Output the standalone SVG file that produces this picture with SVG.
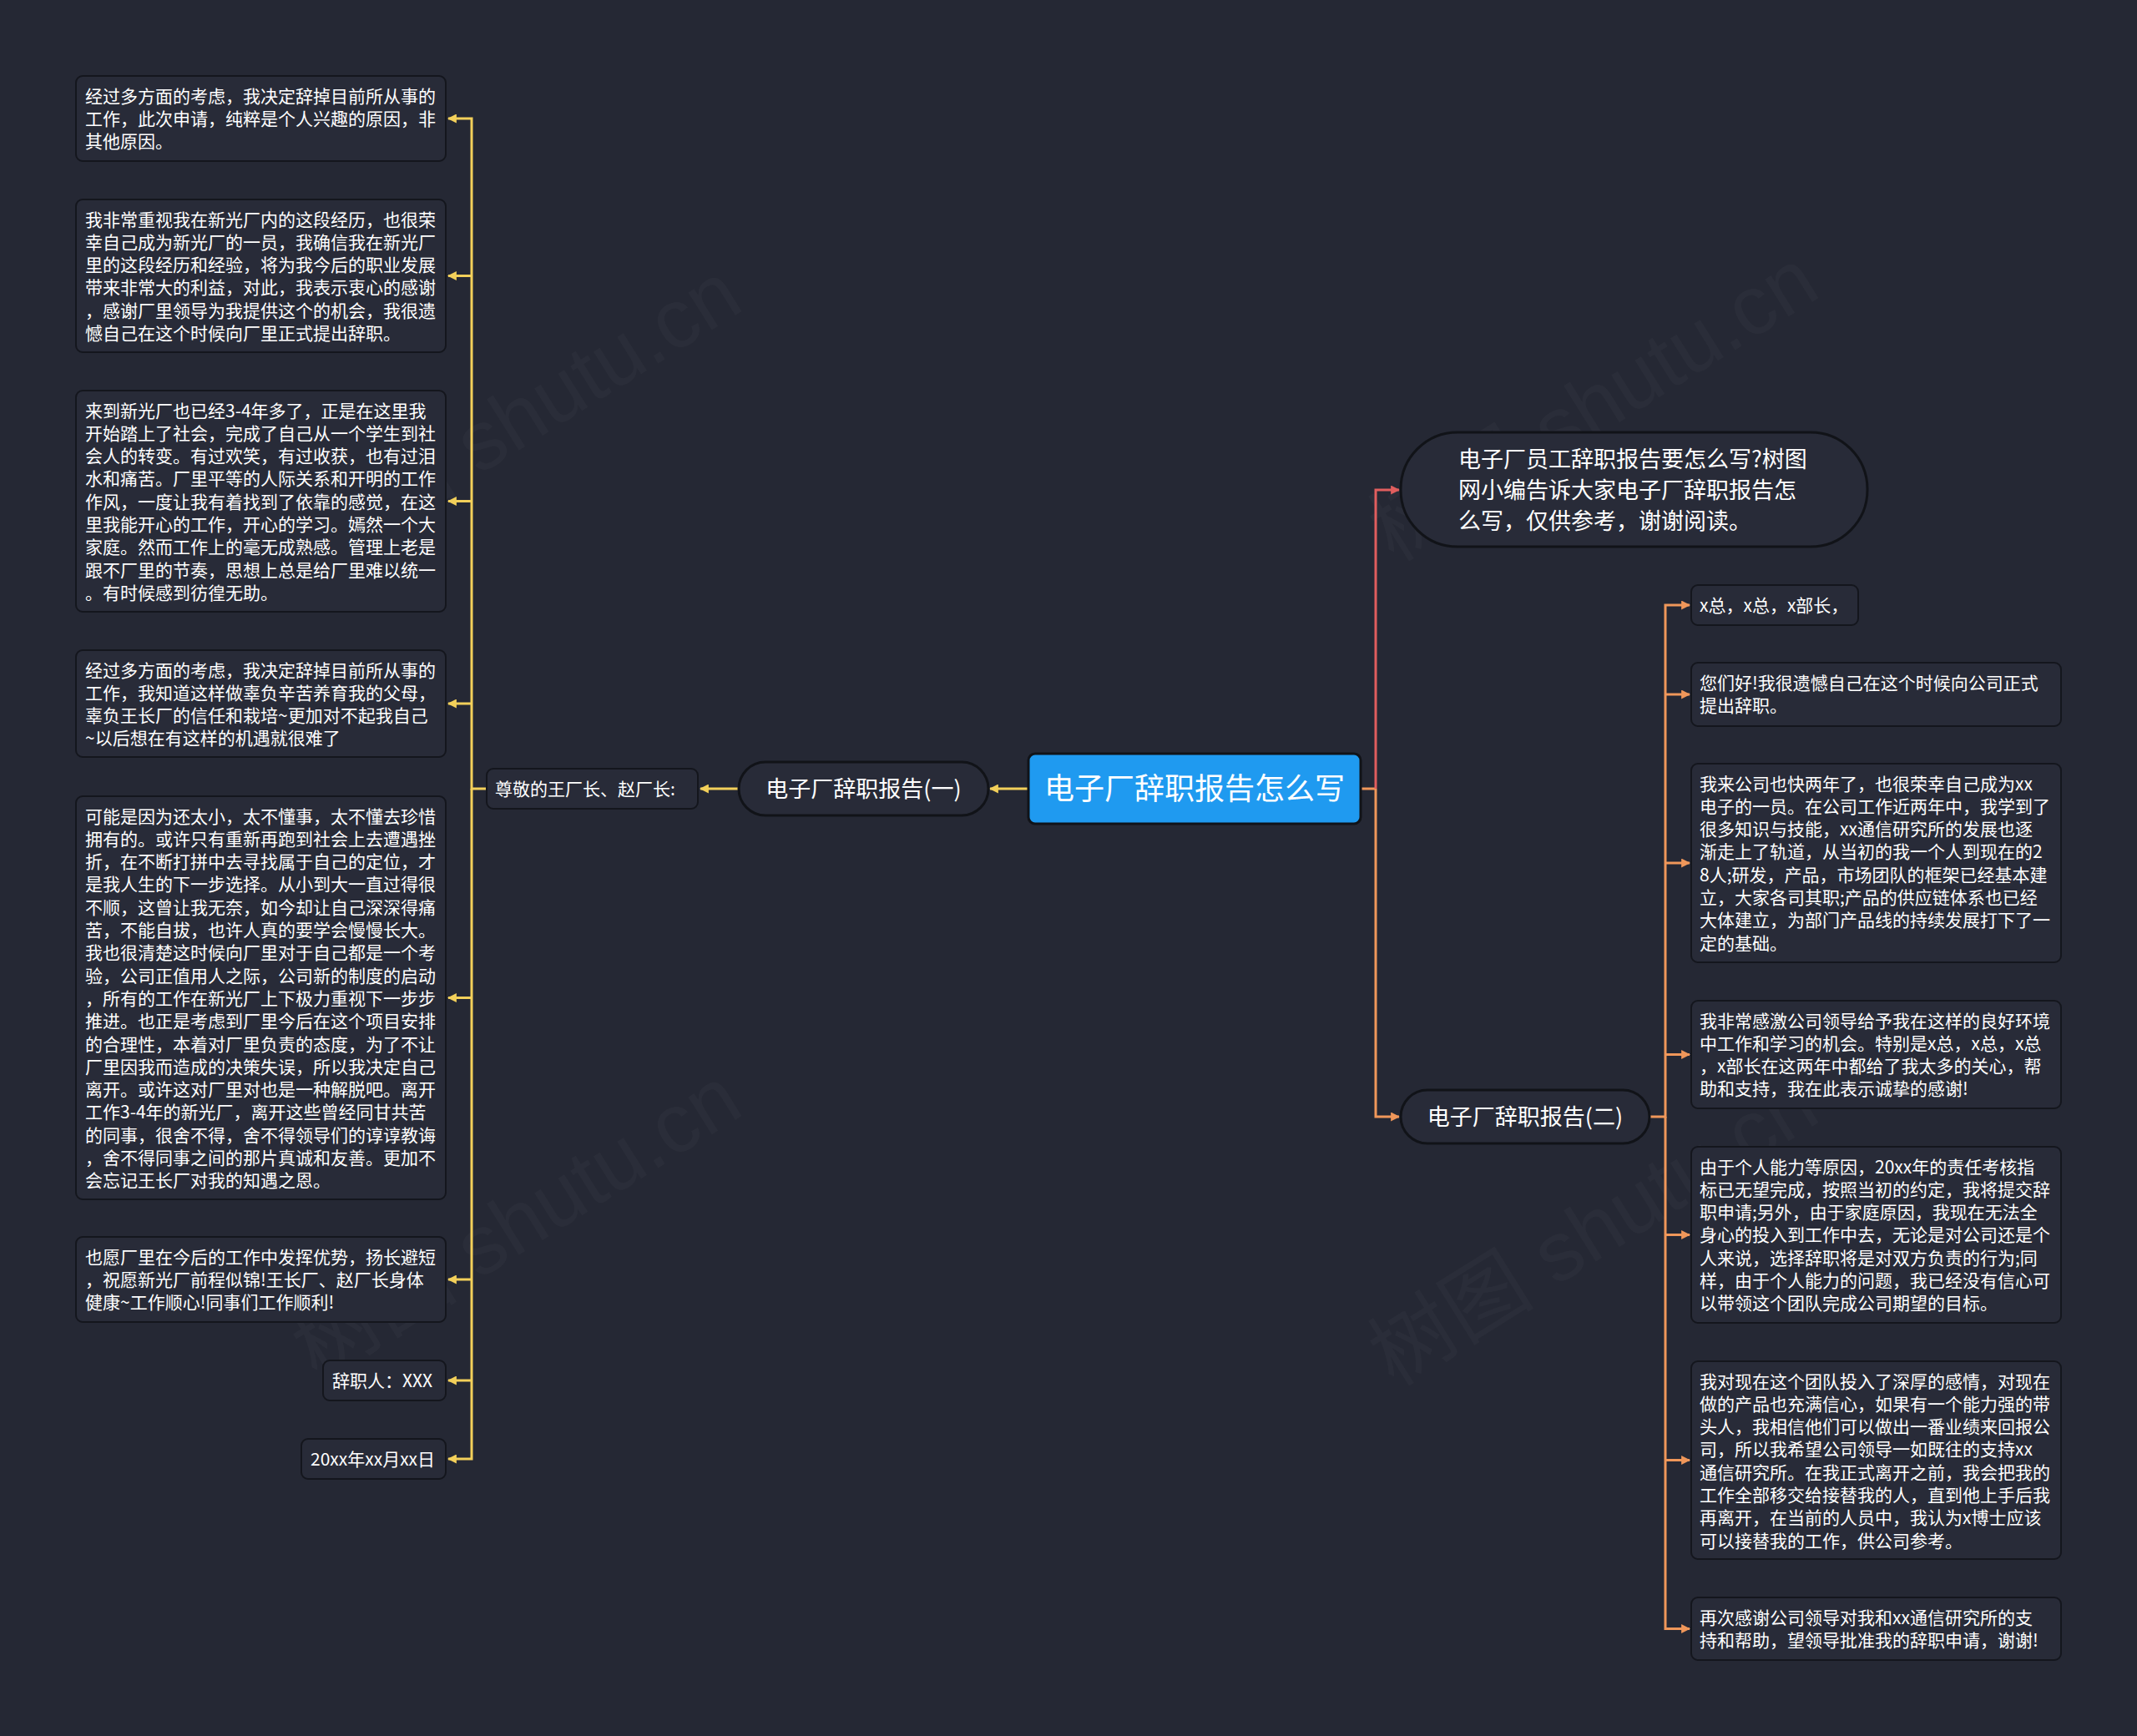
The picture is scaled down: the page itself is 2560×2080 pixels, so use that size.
<svg xmlns="http://www.w3.org/2000/svg" width="2560" height="2080" viewBox="0 0 2560 2080">
<defs>
<style>
.bg{fill:#252834}
.box{fill:#282b38;stroke:#14161d;stroke-width:2}
.pill{fill:#282b38;stroke:#111318;stroke-width:3}
.root{fill:#1f9af0;stroke:#111318;stroke-width:3}
.t{font-family:"Noto Sans CJK SC","Noto Sans",sans-serif;font-size:21px;fill:#ffffff}
.tm{font-family:"Noto Sans CJK SC","Noto Sans",sans-serif;font-size:27px;fill:#ffffff}
.tr{font-family:"Noto Sans CJK SC","Noto Sans",sans-serif;font-size:36px;fill:#ffffff}
.wm{font-family:"Liberation Sans","Noto Sans CJK SC",sans-serif;font-size:100px;fill:#ffffff;fill-opacity:0.028}
.cy{fill:none;stroke:#f3d05a;stroke-width:3}
.cr{fill:none;stroke:#e15e5e;stroke-width:3}
.co{fill:none;stroke:#f0975a;stroke-width:3}
</style>
<marker id="ay" viewBox="0 0 10 10" refX="9" refY="5" markerWidth="11" markerHeight="11" markerUnits="userSpaceOnUse" orient="auto"><path d="M0,0 L10,5 L0,10 z" fill="#f3d05a"/></marker>
<marker id="ar" viewBox="0 0 10 10" refX="9" refY="5" markerWidth="11" markerHeight="11" markerUnits="userSpaceOnUse" orient="auto"><path d="M0,0 L10,5 L0,10 z" fill="#e15e5e"/></marker>
<marker id="ao" viewBox="0 0 10 10" refX="9" refY="5" markerWidth="11" markerHeight="11" markerUnits="userSpaceOnUse" orient="auto"><path d="M0,0 L10,5 L0,10 z" fill="#f0975a"/></marker>
</defs>
<rect class="bg" x="0" y="0" width="2560" height="2080"/>
<g id="watermarks">
<text class="wm" transform="translate(637,530) rotate(-32)" text-anchor="middle">树图 shutu.cn</text>
<text class="wm" transform="translate(637,1494) rotate(-32)" text-anchor="middle">树图 shutu.cn</text>
<text class="wm" transform="translate(1927,514) rotate(-32)" text-anchor="middle">树图 shutu.cn</text>
<text class="wm" transform="translate(1927,1502) rotate(-32)" text-anchor="middle">树图 shutu.cn</text>
</g>
<g id="connectors">
<path class="cy" d="M1232 945 H1186" marker-end="url(#ay)"/>
<path class="cy" d="M885 945 H839" marker-end="url(#ay)"/>
<path class="cy" d="M583 945 H565 V142 H537" marker-end="url(#ay)"/>
<path class="cy" d="M565 330.5 H537" marker-end="url(#ay)"/>
<path class="cy" d="M565 600.5 H537" marker-end="url(#ay)"/>
<path class="cy" d="M565 843 H537" marker-end="url(#ay)"/>
<path class="cy" d="M565 1195.5 H537" marker-end="url(#ay)"/>
<path class="cy" d="M565 1533 H537" marker-end="url(#ay)"/>
<path class="cy" d="M565 1654 H537" marker-end="url(#ay)"/>
<path class="cy" d="M565 945 V1748 H537" marker-end="url(#ay)"/>
<path class="co" d="M1630 945 H1648"/>
<path class="cr" d="M1648 945 V587 H1676" marker-end="url(#ar)"/>
<path class="co" d="M1648 945 V1338 H1676" marker-end="url(#ao)"/>
<path class="co" d="M1976 1338 H1995 V725 H2024" marker-end="url(#ao)"/>
<path class="co" d="M1995 832 H2024" marker-end="url(#ao)"/>
<path class="co" d="M1995 1034 H2024" marker-end="url(#ao)"/>
<path class="co" d="M1995 1263.5 H2024" marker-end="url(#ao)"/>
<path class="co" d="M1995 1479.5 H2024" marker-end="url(#ao)"/>
<path class="co" d="M1995 1338 V1951.5 H2024" marker-end="url(#ao)"/>
<path class="co" d="M1995 1749.5 H2024" marker-end="url(#ao)"/>
</g>
<g id="root">
<rect class="root" x="1232" y="903" width="398" height="84" rx="8"/>
<text class="tr" x="1431" y="958" text-anchor="middle">电子厂辞职报告怎么写</text>
</g>
<g id="branch1">
<rect class="pill" x="885" y="913" width="299" height="64" rx="32"/>
<text class="tm" x="1034.5" y="955" text-anchor="middle">电子厂辞职报告(一)</text>
</g>
<g id="greeting">
<rect class="box" x="583" y="921" width="253" height="48" rx="8"/>
<text class="t" x="593" y="952.5">尊敬的王厂长、赵厂长:</text>
</g>
<g id="l1">
<rect class="box" x="91" y="91" width="443" height="102" rx="8"/>
<text class="t" x="102" y="122.5"><tspan x="102">经过多方面的考虑，我决定辞掉目前所从事的</tspan><tspan x="102" dy="27.3">工作，此次申请，纯粹是个人兴趣的原因，非</tspan><tspan x="102" dy="27.3">其他原因。</tspan></text>
</g>
<g id="l2">
<rect class="box" x="91" y="239" width="443" height="183" rx="8"/>
<text class="t" x="102" y="270.5"><tspan x="102">我非常重视我在新光厂内的这段经历，也很荣</tspan><tspan x="102" dy="27.3">幸自己成为新光厂的一员，我确信我在新光厂</tspan><tspan x="102" dy="27.3">里的这段经历和经验，将为我今后的职业发展</tspan><tspan x="102" dy="27.3">带来非常大的利益，对此，我表示衷心的感谢</tspan><tspan x="102" dy="27.3">，感谢厂里领导为我提供这个的机会，我很遗</tspan><tspan x="102" dy="27.3">憾自己在这个时候向厂里正式提出辞职。</tspan></text>
</g>
<g id="l3">
<rect class="box" x="91" y="468" width="443" height="265" rx="8"/>
<text class="t" x="102" y="499.5"><tspan x="102">来到新光厂也已经3-4年多了，正是在这里我</tspan><tspan x="102" dy="27.3">开始踏上了社会，完成了自己从一个学生到社</tspan><tspan x="102" dy="27.3">会人的转变。有过欢笑，有过收获，也有过泪</tspan><tspan x="102" dy="27.3">水和痛苦。厂里平等的人际关系和开明的工作</tspan><tspan x="102" dy="27.3">作风，一度让我有着找到了依靠的感觉，在这</tspan><tspan x="102" dy="27.3">里我能开心的工作，开心的学习。嫣然一个大</tspan><tspan x="102" dy="27.3">家庭。然而工作上的毫无成熟感。管理上老是</tspan><tspan x="102" dy="27.3">跟不厂里的节奏，思想上总是给厂里难以统一</tspan><tspan x="102" dy="27.3">。有时候感到彷徨无助。</tspan></text>
</g>
<g id="l4">
<rect class="box" x="91" y="779" width="443" height="128" rx="8"/>
<text class="t" x="102" y="810.5"><tspan x="102">经过多方面的考虑，我决定辞掉目前所从事的</tspan><tspan x="102" dy="27.3">工作，我知道这样做辜负辛苦养育我的父母，</tspan><tspan x="102" dy="27.3">辜负王长厂的信任和栽培~更加对不起我自己</tspan><tspan x="102" dy="27.3">~以后想在有这样的机遇就很难了</tspan></text>
</g>
<g id="l5">
<rect class="box" x="91" y="954" width="443" height="483" rx="8"/>
<text class="t" x="102" y="985.5"><tspan x="102">可能是因为还太小，太不懂事，太不懂去珍惜</tspan><tspan x="102" dy="27.3">拥有的。或许只有重新再跑到社会上去遭遇挫</tspan><tspan x="102" dy="27.3">折，在不断打拼中去寻找属于自己的定位，才</tspan><tspan x="102" dy="27.3">是我人生的下一步选择。从小到大一直过得很</tspan><tspan x="102" dy="27.3">不顺，这曾让我无奈，如今却让自己深深得痛</tspan><tspan x="102" dy="27.3">苦，不能自拔，也许人真的要学会慢慢长大。</tspan><tspan x="102" dy="27.3">我也很清楚这时候向厂里对于自己都是一个考</tspan><tspan x="102" dy="27.3">验，公司正值用人之际，公司新的制度的启动</tspan><tspan x="102" dy="27.3">，所有的工作在新光厂上下极力重视下一步步</tspan><tspan x="102" dy="27.3">推进。也正是考虑到厂里今后在这个项目安排</tspan><tspan x="102" dy="27.3">的合理性，本着对厂里负责的态度，为了不让</tspan><tspan x="102" dy="27.3">厂里因我而造成的决策失误，所以我决定自己</tspan><tspan x="102" dy="27.3">离开。或许这对厂里对也是一种解脱吧。离开</tspan><tspan x="102" dy="27.3">工作3-4年的新光厂，离开这些曾经同甘共苦</tspan><tspan x="102" dy="27.3">的同事，很舍不得，舍不得领导们的谆谆教诲</tspan><tspan x="102" dy="27.3">，舍不得同事之间的那片真诚和友善。更加不</tspan><tspan x="102" dy="27.3">会忘记王长厂对我的知遇之恩。</tspan></text>
</g>
<g id="l6">
<rect class="box" x="91" y="1482" width="443" height="102" rx="8"/>
<text class="t" x="102" y="1513.5"><tspan x="102">也愿厂里在今后的工作中发挥优势，扬长避短</tspan><tspan x="102" dy="27.3">，祝愿新光厂前程似锦!王长厂、赵厂长身体</tspan><tspan x="102" dy="27.3">健康~工作顺心!同事们工作顺利!</tspan></text>
</g>
<g id="l7">
<rect class="box" x="387" y="1630" width="147" height="48" rx="8"/>
<text class="t" x="398" y="1661.5">辞职人：XXX</text>
</g>
<g id="l8">
<rect class="box" x="361" y="1724" width="173" height="48" rx="8"/>
<text class="t" x="372" y="1755.5">20xx年xx月xx日</text>
</g>
<g id="intro">
<rect class="pill" x="1678" y="518" width="559" height="137" rx="68"/>
<text class="tm" x="1747" y="560"><tspan x="1747">电子厂员工辞职报告要怎么写?树图</tspan><tspan x="1747" dy="37">网小编告诉大家电子厂辞职报告怎</tspan><tspan x="1747" dy="37">么写，仅供参考，谢谢阅读。</tspan></text>
</g>
<g id="branch2">
<rect class="pill" x="1678" y="1306" width="298" height="64" rx="32"/>
<text class="tm" x="1827" y="1348" text-anchor="middle">电子厂辞职报告(二)</text>
</g>
<g id="r1">
<rect class="box" x="2026" y="701" width="200" height="48" rx="8"/>
<text class="t" x="2036" y="732.5">x总，x总，x部长，</text>
</g>
<g id="r2">
<rect class="box" x="2026" y="794" width="443" height="76" rx="8"/>
<text class="t" x="2036" y="825.5"><tspan x="2036">您们好!我很遗憾自己在这个时候向公司正式</tspan><tspan x="2036" dy="27.3">提出辞职。</tspan></text>
</g>
<g id="r3">
<rect class="box" x="2026" y="915" width="443" height="238" rx="8"/>
<text class="t" x="2036" y="946.5"><tspan x="2036">我来公司也快两年了，也很荣幸自己成为xx</tspan><tspan x="2036" dy="27.3">电子的一员。在公司工作近两年中，我学到了</tspan><tspan x="2036" dy="27.3">很多知识与技能，xx通信研究所的发展也逐</tspan><tspan x="2036" dy="27.3">渐走上了轨道，从当初的我一个人到现在的2</tspan><tspan x="2036" dy="27.3">8人;研发，产品，市场团队的框架已经基本建</tspan><tspan x="2036" dy="27.3">立，大家各司其职;产品的供应链体系也已经</tspan><tspan x="2036" dy="27.3">大体建立，为部门产品线的持续发展打下了一</tspan><tspan x="2036" dy="27.3">定的基础。</tspan></text>
</g>
<g id="r4">
<rect class="box" x="2026" y="1199" width="443" height="129" rx="8"/>
<text class="t" x="2036" y="1230.5"><tspan x="2036">我非常感激公司领导给予我在这样的良好环境</tspan><tspan x="2036" dy="27.3">中工作和学习的机会。特别是x总，x总，x总</tspan><tspan x="2036" dy="27.3">，x部长在这两年中都给了我太多的关心，帮</tspan><tspan x="2036" dy="27.3">助和支持，我在此表示诚挚的感谢!</tspan></text>
</g>
<g id="r5">
<rect class="box" x="2026" y="1374" width="443" height="211" rx="8"/>
<text class="t" x="2036" y="1405.5"><tspan x="2036">由于个人能力等原因，20xx年的责任考核指</tspan><tspan x="2036" dy="27.3">标已无望完成，按照当初的约定，我将提交辞</tspan><tspan x="2036" dy="27.3">职申请;另外，由于家庭原因，我现在无法全</tspan><tspan x="2036" dy="27.3">身心的投入到工作中去，无论是对公司还是个</tspan><tspan x="2036" dy="27.3">人来说，选择辞职将是对双方负责的行为;同</tspan><tspan x="2036" dy="27.3">样，由于个人能力的问题，我已经没有信心可</tspan><tspan x="2036" dy="27.3">以带领这个团队完成公司期望的目标。</tspan></text>
</g>
<g id="r6">
<rect class="box" x="2026" y="1631" width="443" height="237" rx="8"/>
<text class="t" x="2036" y="1662.5"><tspan x="2036">我对现在这个团队投入了深厚的感情，对现在</tspan><tspan x="2036" dy="27.3">做的产品也充满信心，如果有一个能力强的带</tspan><tspan x="2036" dy="27.3">头人，我相信他们可以做出一番业绩来回报公</tspan><tspan x="2036" dy="27.3">司，所以我希望公司领导一如既往的支持xx</tspan><tspan x="2036" dy="27.3">通信研究所。在我正式离开之前，我会把我的</tspan><tspan x="2036" dy="27.3">工作全部移交给接替我的人，直到他上手后我</tspan><tspan x="2036" dy="27.3">再离开，在当前的人员中，我认为x博士应该</tspan><tspan x="2036" dy="27.3">可以接替我的工作，供公司参考。</tspan></text>
</g>
<g id="r7">
<rect class="box" x="2026" y="1914" width="443" height="75" rx="8"/>
<text class="t" x="2036" y="1945.5"><tspan x="2036">再次感谢公司领导对我和xx通信研究所的支</tspan><tspan x="2036" dy="27.3">持和帮助，望领导批准我的辞职申请，谢谢!</tspan></text>
</g>
</svg>
